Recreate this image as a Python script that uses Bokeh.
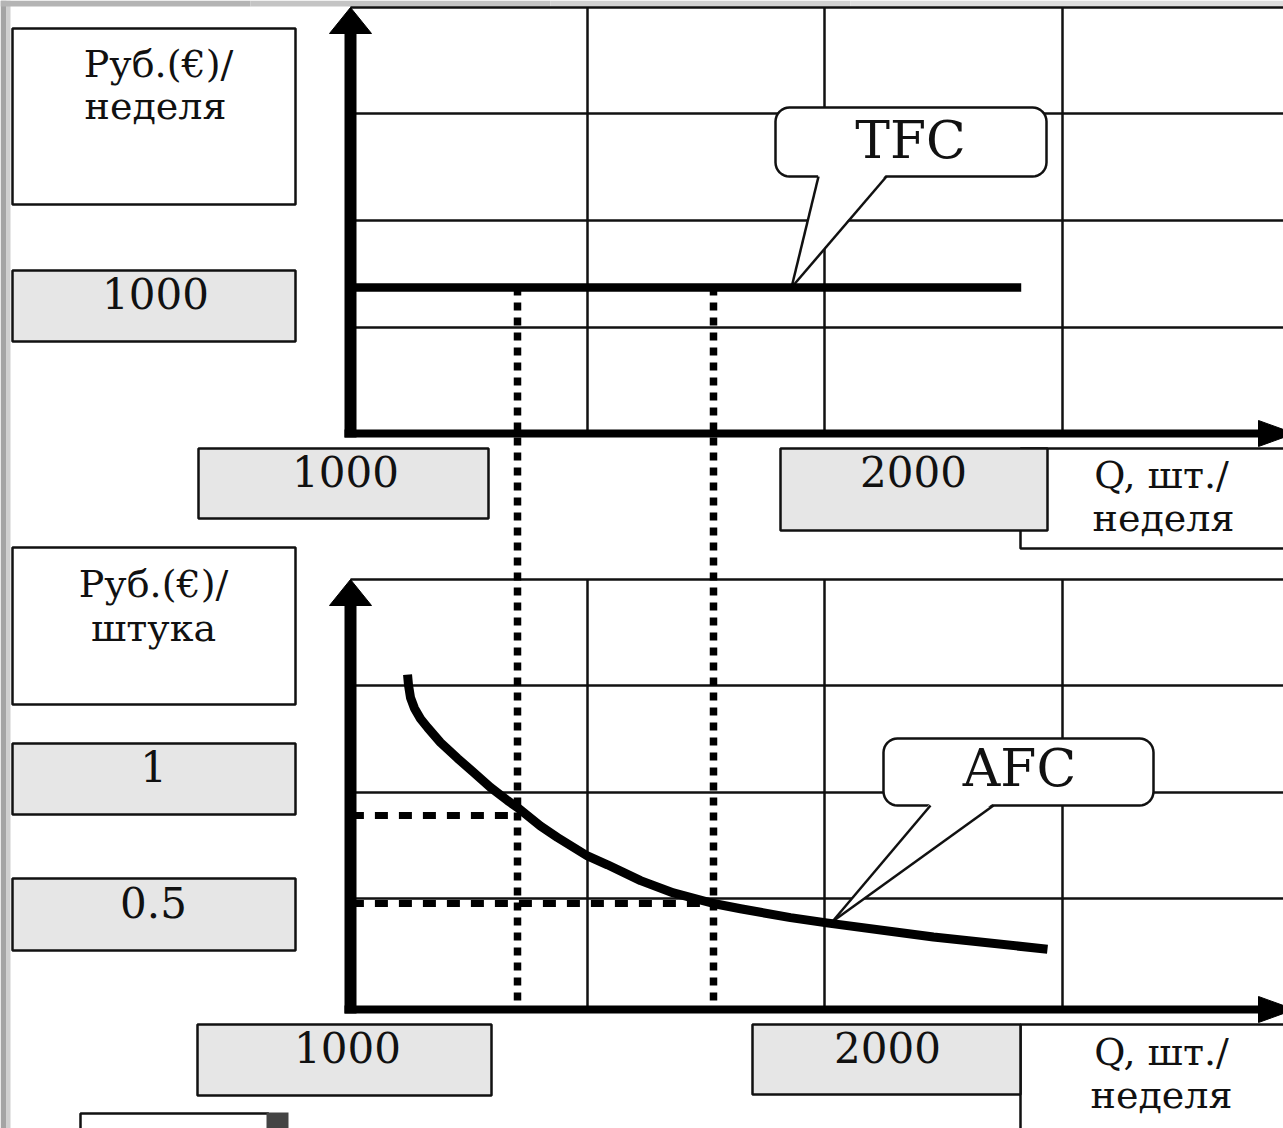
import numpy as np
from bokeh.plotting import figure
from bokeh.models import Range1d
from bokeh.embed import file_html
from bokeh.resources import INLINE
from bokeh.core.properties import value

# ---------------- data ----------------
TFC_LEVEL = 1000                       # Руб.(€)/неделя, constant total fixed cost
TFC_Q = [150, 3570]                    # extent of the TFC line (Q)
Q_MARKS = [1000, 2000]                 # quantities of the dotted guides
AFC_MARKS = [1.0, 0.5]                 # AFC at those quantities
AFC_Q = [439, 444, 454, 474, 505, 541, 607, 694, 776, 862, 949, 1000, 1117, 1204,
         1357, 1459, 1628, 1796, 2000, 2138, 2393, 2577, 3122, 3704]
AFC_V = [1.80, 1.74, 1.67, 1.61, 1.55, 1.50, 1.415, 1.325, 1.245, 1.16, 1.085, 1.045,
         0.94, 0.875, 0.77, 0.72, 0.63, 0.56, 0.50, 0.47, 0.42, 0.39, 0.31, 0.24]
CURVE_NAMES = ["TFC", "AFC"]
X_TICK_LABELS = ["1000", "2000"]
TOP_Y_TICK_LABELS = ["1000"]
BOTTOM_Y_TICK_LABELS = ["1", "0.5"]
TOP_Y_TITLE = ["Руб.(€)/", "неделя"]
BOTTOM_Y_TITLE = ["Руб.(€)/", "штука"]
X_TITLE = ["Q, шт./", "неделя"]

# ---------------- layout (page pixels -> data units) ----------------
W, H = 1283, 1128
QPX = 0.196          # px per unit of Q
TPX = 0.146          # px per rouble/week (top panel)
APX = 176.0          # px per rouble/piece (bottom panel)


def X(px):
    return 1000 + (px - 517) / QPX


def YT(py):
    return (433 - py) / TPX


def YB(py):
    return 1 + (815 - py) / APX


p = figure(width=W, height=H, x_range=Range1d(X(0), X(W)),
           y_range=Range1d(YT(H), YT(0)),
           output_backend="svg", toolbar_location=None, title=None,
           x_axis_type=None, y_axis_type=None, min_border=0,
           outline_line_color=None, background_fill_color="white",
           border_fill_color="white")
p.extra_y_ranges = {"afc": Range1d(YB(H), YB(0))}

INK = "#111111"
GRAY = "#e6e6e6"
FONT = value("DejaVu Serif")

# slide edges (grey frame of the scanned slide)
p.quad(left=X(0), right=X(6), top=YT(0), bottom=YT(H), fill_color="#a4a4a4", line_color=None)
p.quad(left=X(6), right=X(10), top=YT(0), bottom=YT(H), fill_color="#cfcfcf", line_color=None)
edge_steps = [(0, 250, "#b4b4b4"), (250, 550, "#c4c4c4"), (550, 850, "#d2d2d2"), (850, 1283, "#dedede")]
for a, b, c in edge_steps:
    p.quad(left=X(a), right=X(b), top=YT(0), bottom=YT(6), fill_color=c, line_color=None)

# ---- table grid behind the graphs ----
h_rows = [7, 113, 220, 327, 579, 685, 792, 898]
p.segment(x0=[X(350)] * len(h_rows), y0=[YT(v) for v in h_rows],
          x1=[X(1290)] * len(h_rows), y1=[YT(v) for v in h_rows],
          line_color=INK, line_width=2.5)
v_cols = [587, 824, 1062]
p.segment(x0=[X(v) for v in v_cols], y0=[YT(7)] * 3, x1=[X(v) for v in v_cols], y1=[YT(433)] * 3,
          line_color=INK, line_width=2.5)
p.segment(x0=[X(v) for v in v_cols], y0=[YT(579)] * 3, x1=[X(v) for v in v_cols], y1=[YT(1009)] * 3,
          line_color=INK, line_width=2.5)


# ---- callouts ----
def rounded(x0, y0, x1, y1, r, n=9):
    xs, ys = [], []
    for cx, cy, a0, a1 in [(x1 - r, y0 + r, -90, 0), (x1 - r, y1 - r, 0, 90),
                           (x0 + r, y1 - r, 90, 180), (x0 + r, y0 + r, 180, 270)]:
        for t in np.linspace(a0, a1, n):
            xs.append(X(cx + r * np.cos(np.radians(t))))
            ys.append(YT(cy + r * np.sin(np.radians(t))))
    return xs, ys


CALLOUTS = [  # box (x0, y0, x1, y1), pointer base xs, tip
    ((775, 107, 1046, 176), (818, 886), (791, 287)),
    ((883, 738, 1153, 805), (930, 993), (832, 921)),
]
for (bx0, by0, bx1, by1), (pl, pr), (tx, ty) in CALLOUTS:
    xs, ys = rounded(bx0, by0, bx1, by1, 14)
    p.patch(xs, ys, fill_color="white", line_color=INK, line_width=2.5)
    p.patch([X(pl), X(pr), X(tx)], [YT(by1 - 2.5), YT(by1 - 2.5), YT(ty)],
            fill_color="white", line_color=None)
    p.multi_line([[X(pl), X(tx)], [X(pr), X(tx)]], [[YT(by1), YT(ty)], [YT(by1), YT(ty)]],
                 line_color=INK, line_width=2.5)

# ---- dotted guides ----
p.segment(x0=Q_MARKS, y0=[TFC_LEVEL] * 2, x1=Q_MARKS, y1=[YT(1009)] * 2,
          line_color="black", line_width=7.5, line_dash="8 7")
p.segment(x0=[TFC_Q[0]] * 2, y0=AFC_MARKS, x1=Q_MARKS, y1=AFC_MARKS, y_range_name="afc",
          line_color="black", line_width=7, line_dash="13 11")

# ---- curves ----
p.line(TFC_Q, [TFC_LEVEL, TFC_LEVEL], line_color="black", line_width=8.5)
p.line(AFC_Q, AFC_V, y_range_name="afc", line_color="black", line_width=9, line_join="round")

# ---- axes with arrows ----
for ax_y, top_y in [(433, 7), (1009, 579)]:
    p.segment(x0=[X(350)], y0=[YT(ax_y + 4)], x1=[X(350)], y1=[YT(top_y + 24)],
              line_color="black", line_width=12)
    p.patch([X(329), X(371), X(350)], [YT(top_y + 26), YT(top_y + 26), YT(top_y)],
            fill_color="black", line_color="black")
    p.segment(x0=[X(344)], y0=[YT(ax_y)], x1=[X(1262)], y1=[YT(ax_y)],
              line_color="black", line_width=8)
    p.patch([X(1258), X(1258), X(1294)], [YT(ax_y - 13), YT(ax_y + 13), YT(ax_y)],
            fill_color="black", line_color="black")

# ---- label boxes ----
BOXES = [
    (12, 28, 295, 204, "white"),
    (12, 270, 295, 341, GRAY),
    (198, 448, 488, 518, GRAY),
    (1020, 448, 1300, 548, "white"),
    (780, 448, 1047, 530, GRAY),
    (12, 547, 295, 704, "white"),
    (12, 743, 295, 814, GRAY),
    (12, 878, 295, 950, GRAY),
    (197, 1024, 491, 1095, GRAY),
    (1020, 1024, 1300, 1140, "white"),
    (752, 1024, 1020, 1094, GRAY),
    (80, 1113, 268, 1140, "white"),
]
for x0, y0, x1, y1, fc in BOXES:
    p.quad(left=X(x0), right=X(x1), top=YT(y0), bottom=YT(y1), fill_color=fc,
           line_color=INK, line_width=2.5)
p.quad(left=X(266), right=X(288), top=YT(1112), bottom=YT(1128), fill_color="#444444", line_color=None)


# ---- texts (y = wanted baseline; renderer puts glyphs ~0.4 em lower) ----
def put(items, size):
    shift = 0.4 * size
    p.text(x=[X(a) for _, a, _ in items], y=[YT(b - shift) for _, _, b in items],
           text=[t for t, _, _ in items], text_font=FONT, text_font_size=value(f"{size}px"),
           text_color=INK, text_align="center", text_baseline="alphabetic")


put([(CURVE_NAMES[0], 910, 160), (CURVE_NAMES[1], 1019, 788)], 52)
put([(TOP_Y_TICK_LABELS[0], 155, 310),
     (X_TICK_LABELS[0], 345, 488), (X_TICK_LABELS[1], 913, 488),
     (BOTTOM_Y_TICK_LABELS[0], 153, 783), (BOTTOM_Y_TICK_LABELS[1], 153, 919),
     (X_TICK_LABELS[0], 347, 1064), (X_TICK_LABELS[1], 887, 1064)], 42)
put([(TOP_Y_TITLE[0], 158, 79), (TOP_Y_TITLE[1], 155, 121),
     (BOTTOM_Y_TITLE[0], 153, 599), (BOTTOM_Y_TITLE[1], 153, 643),
     (X_TITLE[0], 1161, 490), (X_TITLE[1], 1163, 533),
     (X_TITLE[0], 1161, 1067), (X_TITLE[1], 1161, 1110)], 38)

open("out.html", "w").write(file_html(p, INLINE))
